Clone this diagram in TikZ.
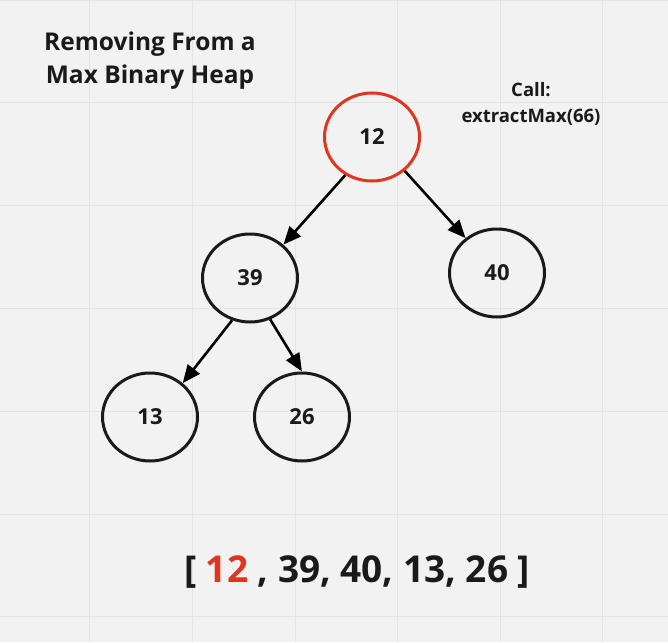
\documentclass[tikz,border=0pt]{standalone}
\usepackage{fontspec}
\setmainfont{Open Sans}
\usetikzlibrary{shapes.geometric,arrows.meta}
\definecolor{bg}{HTML}{F2F2F2}
\definecolor{gridc}{HTML}{E4E4E4}
\definecolor{redc}{HTML}{E0361F}
\definecolor{ink}{HTML}{1A1A1A}
\tikzset{
  heap/.style={ellipse, draw=ink, line width=3pt, minimum width=95pt, minimum height=88pt,
    inner sep=0pt, text=ink, font=\bfseries\fontsize{22}{26}\selectfont},
  edge/.style={draw=black, line width=2.6pt, -{Triangle[length=18pt,width=15pt]}},
  label/.style={text=ink, align=center, font=\bfseries\fontsize{24.5}{33}\selectfont},
}
\begin{document}
\begin{tikzpicture}[x=1pt,y=-1pt]
\fill[bg] (0,0) rectangle (668,642);
\useasboundingbox (0,0) rectangle (668,642);
\foreach \gx in {89,192,295,397,500,602} \draw[gridc, line width=1pt] (\gx,0) -- (\gx,642);
\foreach \gy in {1,102,205,308,411,514,616} \draw[gridc, line width=1pt] (0,\gy) -- (668,\gy);

\node[label] (title) at (150,61) {Removing From a\\Max Binary Heap};
\node[label, font=\bfseries\fontsize{18.5}{26}\selectfont] (call) at (531,104) {Call:\\extractMax(66)};

\node[heap, draw=redc] (n12) at (372,137) {12};
\node[heap] (n39) at (250,278) {39};
\node[heap] (n40) at (497,273) {40};
\node[heap] (n13) at (150,417) {13};
\node[heap] (n26) at (302,417) {26};

\draw[edge] (n12.235) -- (n39.45);
\draw[edge] (n12.314) -- (n40.132);
\draw[edge] (n39.247) -- (n13.46);
\draw[edge] (n39.296) -- (n26.90);

\node[text=ink, font=\bfseries\fontsize{37}{40}\selectfont] (arr) at (357,572)
  {[ \textcolor{redc}{12} , 39, 40, 13, 26 ]};
\end{tikzpicture}
\end{document}
